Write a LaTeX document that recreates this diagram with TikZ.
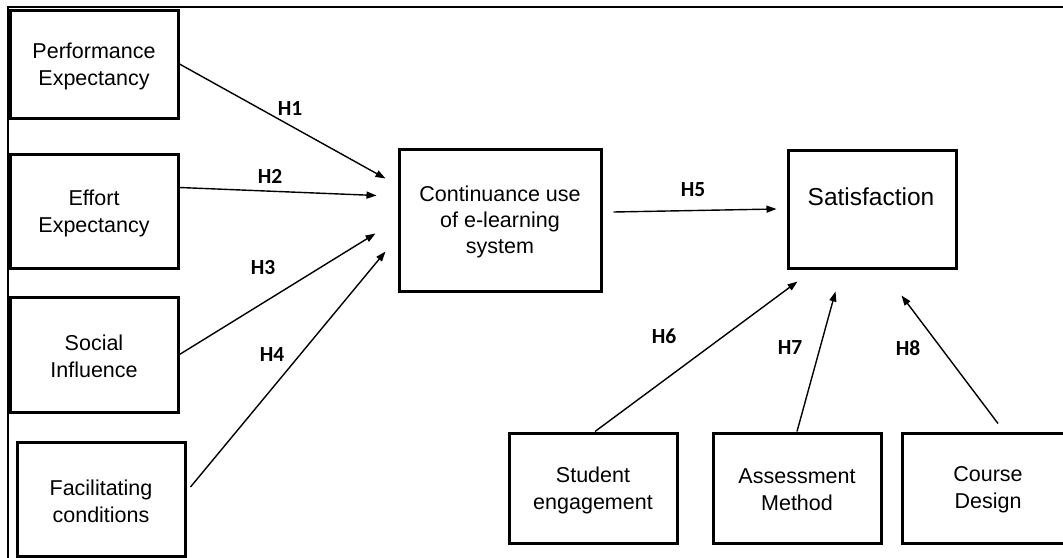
\documentclass[tikz,border=0pt]{standalone}
\usepackage{fontspec}
\setmainfont{Liberation Sans}
\newfontfamily\labfont{Carlito}
\usetikzlibrary{arrows.meta,calc}
\tikzset{
  box/.style={draw=black, line width=3pt, rectangle, minimum width=168pt, inner sep=0pt},
  txt/.style={align=center, inner sep=0pt, font=\fontsize{21.5}{27}\selectfont},
  conn/.style={line width=1.4pt, -{Triangle[length=10pt,width=7pt]}},
  hyp/.style={font=\labfont\bfseries\fontsize{21.5}{24}\selectfont, inner sep=0pt},
  frameline/.style={line width=2pt}
}
\begin{document}
\begin{tikzpicture}[x=1pt,y=-1pt]
\useasboundingbox (0,0) rectangle (1063,557);
\clip (0,0) rectangle (1063,557);
\fill[white] (0,0) rectangle (1063,557);
\coordinate (ftop) at (8,7);
\coordinate (fright) at (1070,7);
\coordinate (fbot) at (8,560);
\draw[frameline] (fright) -- (ftop) -- (fbot);

\node[box, minimum height=108pt] (perf) at (94,64) {};
\node[box, minimum height=114pt] (eff) at (94,211) {};
\node[box, minimum height=115pt] (soc) at (94,354.5) {};
\node[box, minimum height=114pt] (fac) at (101,499) {};
\node[box, minimum width=202pt, minimum height=142pt] (cont) at (500,220) {};
\node[box, minimum height=118pt] (sat) at (872,209) {};
\node[box, minimum height=110pt] (stu) at (593,488) {};
\node[box, minimum height=110pt] (ass) at (797,488) {};
\node[box, minimum height=110pt] (cou) at (986,488) {};

\node[txt] (perft) at ($(perf)+(0,2.5)$) {Performance\\Expectancy};
\node[txt] (efft) at ($(eff)+(0,2)$) {Effort\\Expectancy};
\node[txt] (soct) at ($(soc)+(0,2)$) {Social\\Influence};
\node[txt] (fact) at ($(fac)+(0,2)$) {Facilitating\\conditions};
\node[txt, font=\fontsize{21.5}{26}\selectfont] (contt) at ($(cont)+(0,2)$) {Continuance use\\of e-learning\\system};
\node[font=\fontsize{24.5}{28}\selectfont, inner sep=0pt] (satt) at (871,197) {Satisfaction};
\node[txt] (stut) at ($(stu)+(0,2)$) {Student\\engagement};
\node[txt] (asst) at ($(ass)+(0,2)$) {Assessment\\Method};
\node[txt] (cout) at ($(cou)+(2,2)$) {Course\\Design};

\draw[conn] (perf.east) -- ($(cont.north west)+(-12,31)$);
\draw[conn] ($(eff.north east)+(0,35)$) -- ($(cont.north west)+(-21,48)$);
\draw[conn] (soc.east) -- ($(cont.north west)+(-22,86)$);
\draw[conn] ($(fac.east)+(4,-12)$) -- ($(cont.north west)+(-12,104)$);
\draw[conn] ($(cont.east)+(11,-8)$) -- ($(sat.west)+(-10,0)$);
\draw[conn] ($(stu.north)+(2,0)$) -- ($(sat.south west)+(11,12)$);
\draw[conn] (ass.north) -- ($(sat.south west)+(49,22)$);
\draw[conn] ($(cou.north)+(12,-8)$) -- ($(sat.south west)+(115,26)$);

\node[hyp] (h1) at (290,109) {H1};
\node[hyp] (h2) at (270,176) {H2};
\node[hyp] (h3) at (263,268) {H3};
\node[hyp] (h4) at (272,355) {H4};
\node[hyp] (h5) at (693,190) {H5};
\node[hyp] (h6) at (664,336) {H6};
\node[hyp] (h7) at (790,348) {H7};
\node[hyp] (h8) at (908,348) {H8};
\end{tikzpicture}
\end{document}
